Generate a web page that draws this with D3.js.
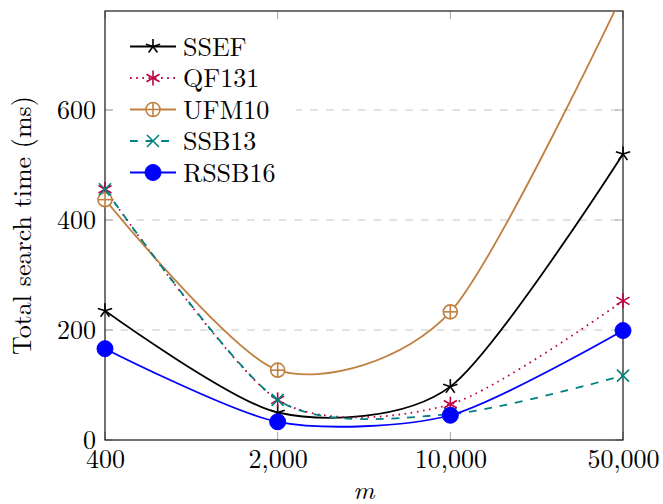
<!DOCTYPE html>
<html>
<head>
<meta charset="utf-8">
<script src="https://cdn.jsdelivr.net/npm/d3@7"></script>
<style>
  html, body { margin: 0; padding: 0; background: #fff; }
  svg { display: block; }
</style>
</head>
<body>
<svg id="chart" width="663" height="504"></svg>
<script>
// ---- data ----
const xValues = [400, 2000, 10000, 50000];
const xTickLabels = ["400", "2,000", "10,000", "50,000"];
const yTicks = [0, 200, 400, 600];
const seriesNames = ["SSEF", "QF131", "UFM10", "SSB13", "RSSB16"];
const ssef   = [235, 50, 97, 520];
const qf131  = [456, 73, 65, 253];
const ufm10  = [437, 127, 233, 812];
const ssb13  = [456, 73, 47, 117];
const rssb16 = [166, 33, 45, 199];
const seriesValues = [ssef, qf131, ufm10, ssb13, rssb16];
const seriesColors = ["#000000", "#bf0040", "#bf8040", "#008080", "#0000ff"];
const seriesDash = [null, "1.6,4.6", null, "7.8,7.8", null];
const seriesMarks = ["star", "asterisk", "oplus", "x", "circle"];

// ---- pick an installed serif font ----
function pickFont() {
  const c = document.createElement("canvas").getContext("2d");
  const s = "Total search time (ms) RSSB16 0123456789";
  c.font = "40px monospace"; const wm = c.measureText(s).width;
  c.font = "40px sans-serif"; const ws = c.measureText(s).width;
  const cands = ["Latin Modern Roman", "CMU Serif", "Liberation Serif", "Tinos", "Times New Roman", "Nimbus Roman",
                 "Nimbus Roman No9 L", "FreeSerif", "DejaVu Serif", "Noto Serif", "Georgia", "Times"];
  for (const f of cands) {
    c.font = `40px "${f}", monospace`; const a = c.measureText(s).width;
    c.font = `40px "${f}", sans-serif`; const b = c.measureText(s).width;
    if (a !== wm || b !== ws) return `"${f}"`;
  }
  return "serif";
}
const FONT = pickFont();

// ---- layout ----
const pL = 105, pR = 623, pT = 11, pB = 440;
const svg = d3.select("#chart");

const x = d3.scaleLog().domain([400, 50000]).range([pL, pR]);
const y = d3.scaleLinear().domain([0, 780]).range([pB, pT]);

// clip
svg.append("defs").append("clipPath").attr("id", "plotclip")
  .append("rect").attr("x", pL).attr("y", pT).attr("width", pR - pL).attr("height", pB - pT);

// grid
svg.append("g").selectAll("line").data(yTicks.filter(d => d > 0)).join("line")
  .attr("x1", pL).attr("x2", pR)
  .attr("y1", d => y(d)).attr("y2", d => y(d))
  .attr("stroke", "#c4c4c4").attr("stroke-width", 1).attr("stroke-dasharray", "7.5,8.3");

// ticks (inside, gray, all sides)
const tickLen = 8;
const tg = svg.append("g").attr("stroke", "#a8a8a8").attr("stroke-width", 1);
xValues.forEach(v => {
  tg.append("line").attr("x1", x(v)).attr("x2", x(v)).attr("y1", pB).attr("y2", pB - tickLen);
  tg.append("line").attr("x1", x(v)).attr("x2", x(v)).attr("y1", pT).attr("y2", pT + tickLen);
});
yTicks.forEach(v => {
  tg.append("line").attr("x1", pL).attr("x2", pL + tickLen).attr("y1", y(v)).attr("y2", y(v));
  tg.append("line").attr("x1", pR).attr("x2", pR - tickLen).attr("y1", y(v)).attr("y2", y(v));
});

// axis labels via d3 axes (text only)
const xAxis = d3.axisBottom(x).tickValues(xValues).tickFormat((d, i) => xTickLabels[i]).tickSize(0).tickPadding(0);
const gx = svg.append("g").attr("transform", `translate(0,${pB})`).call(xAxis)
  .attr("font-family", FONT).attr("font-size", 26);
gx.select(".domain").remove();
gx.selectAll("text").attr("fill", "#000").attr("dy", null).attr("y", 28);

const yAxis = d3.axisLeft(y).tickValues(yTicks).tickFormat(d3.format("d")).tickSize(0).tickPadding(0);
const gy = svg.append("g").attr("transform", `translate(${pL},0)`).call(yAxis)
  .attr("font-family", FONT).attr("font-size", 26);
gy.select(".domain").remove();
gy.selectAll("text").attr("fill", "#000").attr("x", -9).attr("dy", "0.33em");

// axis box
svg.append("rect").attr("x", pL).attr("y", pT).attr("width", pR - pL).attr("height", pB - pT)
  .attr("fill", "none").attr("stroke", "#000").attr("stroke-width", 1.1);

// axis titles
svg.append("text").attr("x", (pL + pR) / 2).attr("y", 499).attr("text-anchor", "middle")
  .attr("font-family", FONT).attr("font-size", 26).attr("font-style", "italic").text("m");
svg.append("text").attr("transform", `translate(31,${(pT + pB) / 2}) rotate(-90)`)
  .attr("font-family", FONT).attr("text-anchor", "middle").attr("font-size", 26).text("Total search time (ms)");

// marker drawing
function drawMark(g, type, cx, cy, color) {
  const sw = 1.6;
  if (type === "star") {
    const r = 7.5;
    for (let k = 0; k < 5; k++) {
      const a = (90 + 72 * k) * Math.PI / 180;
      g.append("line").attr("x1", cx).attr("y1", cy)
        .attr("x2", cx + r * Math.cos(a)).attr("y2", cy - r * Math.sin(a))
        .attr("stroke", color).attr("stroke-width", sw);
    }
  } else if (type === "asterisk") {
    const r = 7.5;
    [90, 30, 150].forEach(deg => {
      const a = deg * Math.PI / 180;
      g.append("line").attr("x1", cx - r * Math.cos(a)).attr("y1", cy + r * Math.sin(a))
        .attr("x2", cx + r * Math.cos(a)).attr("y2", cy - r * Math.sin(a))
        .attr("stroke", color).attr("stroke-width", sw);
    });
  } else if (type === "oplus") {
    const r = 7;
    g.append("circle").attr("cx", cx).attr("cy", cy).attr("r", r)
      .attr("fill", "#fff").attr("stroke", color).attr("stroke-width", sw);
    g.append("line").attr("x1", cx - r).attr("x2", cx + r).attr("y1", cy).attr("y2", cy).attr("stroke", color).attr("stroke-width", sw);
    g.append("line").attr("x1", cx).attr("x2", cx).attr("y1", cy - r).attr("y2", cy + r).attr("stroke", color).attr("stroke-width", sw);
  } else if (type === "x") {
    const r = 6;
    g.append("line").attr("x1", cx - r).attr("y1", cy - r).attr("x2", cx + r).attr("y2", cy + r).attr("stroke", color).attr("stroke-width", sw);
    g.append("line").attr("x1", cx - r).attr("y1", cy + r).attr("x2", cx + r).attr("y2", cy - r).attr("stroke", color).attr("stroke-width", sw);
  } else if (type === "circle") {
    g.append("circle").attr("cx", cx).attr("cy", cy).attr("r", 8)
      .attr("fill", color).attr("stroke", color).attr("stroke-width", 1);
  }
}

// series
const line = d3.line().x(d => x(d[0])).y(d => y(d[1])).curve(d3.curveCardinal.tension(0.22));
seriesValues.forEach((vals, i) => {
  const pts = xValues.map((xv, j) => [xv, vals[j]]);
  const g = svg.append("g");
  g.append("path").datum(pts).attr("d", line)
    .attr("clip-path", "url(#plotclip)")
    .attr("fill", "none").attr("stroke", seriesColors[i]).attr("stroke-width", 1.8)
    .attr("stroke-dasharray", seriesDash[i]);
  pts.forEach(p => {
    if (p[1] <= 780) drawMark(g, seriesMarks[i], x(p[0]), y(p[1]), seriesColors[i]);
  });
});

// legend
const lg = svg.append("g");
lg.append("rect").attr("x", 116).attr("y", 28).attr("width", 180).attr("height", 164).attr("fill", "#fff");
seriesNames.forEach((name, i) => {
  const cy = 46.5 + 31.5 * i;
  lg.append("line").attr("x1", 130).attr("x2", 176).attr("y1", cy).attr("y2", cy)
    .attr("stroke", seriesColors[i]).attr("stroke-width", 1.8).attr("stroke-dasharray", seriesDash[i]);
  drawMark(lg, seriesMarks[i], 153, cy, seriesColors[i]);
  lg.append("text").attr("x", 183).attr("y", cy + 9).attr("font-family", FONT).attr("font-size", 26).text(name);
});
</script>
</body>
</html>
